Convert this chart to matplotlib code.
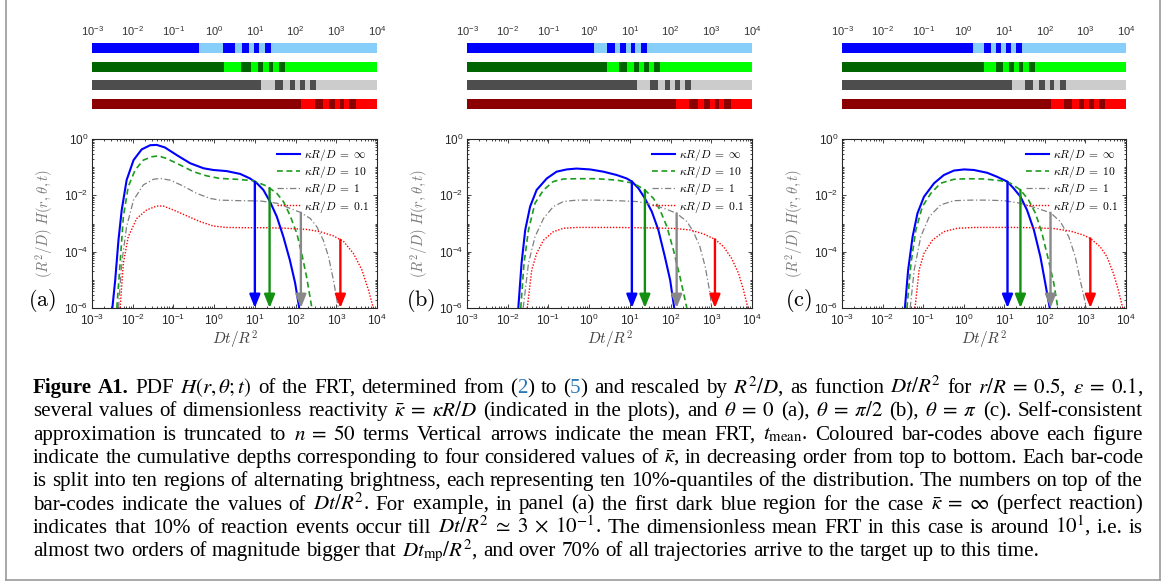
import re
import numpy as np
import matplotlib
matplotlib.use('Agg')
import matplotlib.pyplot as plt
from matplotlib.ticker import LogLocator, NullFormatter, FixedLocator
from matplotlib.lines import Line2D
from matplotlib.transforms import IdentityTransform
from matplotlib.font_manager import FontProperties

plt.rcParams['font.family'] = ['Liberation Sans', 'DejaVu Sans']
plt.rcParams['mathtext.fontset'] = 'cm'

# ---------------------------------------------------------------- data
panel_labels = ['(a)', '(b)', '(c)']
kappa_labels = [r'$\kappa R/D\;=\;\infty$', r'$\kappa R/D\;=\;10$',
                r'$\kappa R/D\;=\;1$', r'$\kappa R/D\;=\;0.1$']
xtick_exponents = [-3, -2, -1, 0, 1, 2, 3, 4]
ytick_exponents = [-6, -4, -2, 0]

# curves: log10(Dt/R^2) and log10((R^2/D) H)
# panel (a)
a_inf_lx = [-2.50, -2.43, -2.35, -2.27, -2.15, -1.98, -1.78, -1.57, -1.41, -1.21, -0.92, -0.59, -0.26,
            -0.02, 0.31, 0.64, 0.88, 1.05, 1.21, 1.37, 1.54, 1.70, 1.86, 1.99, 2.09]
a_inf_ly = [-6.0, -5.01, -3.59, -2.52, -1.46, -0.75, -0.37, -0.22, -0.21, -0.30, -0.57, -0.86, -1.04,
            -1.10, -1.14, -1.24, -1.40, -1.57, -1.81, -2.22, -2.76, -3.47, -4.30, -5.12, -6.0]
a_10_lx = [-2.39, -2.31, -2.23, -2.11, -1.94, -1.74, -1.53, -1.37, -1.17, -0.84, -0.51, -0.18, 0.14,
           0.55, 0.96, 1.29, 1.54, 1.70, 1.86, 2.03, 2.15, 2.27, 2.40]
a_10_ly = [-6.0, -4.41, -2.76, -1.69, -1.10, -0.75, -0.63, -0.60, -0.69, -0.92, -1.16, -1.31, -1.40,
           -1.43, -1.48, -1.67, -1.93, -2.22, -2.70, -3.35, -4.06, -4.89, -6.0]
a_1_lx = [-2.35, -2.27, -2.15, -1.98, -1.74, -1.49, -1.33, -1.08, -0.76, -0.43, -0.10, 0.14, 0.64,
          1.13, 1.54, 1.86, 2.11, 2.36, 2.52, 2.68, 2.81, 2.93, 3.05]
a_1_ly = [-6.0, -4.41, -3.11, -2.17, -1.63, -1.43, -1.40, -1.46, -1.67, -1.93, -2.11, -2.17, -2.19,
          -2.20, -2.28, -2.46, -2.60, -2.82, -3.11, -3.59, -4.18, -5.01, -6.0]
a_01_lx = [-2.31, -2.23, -2.11, -1.90, -1.66, -1.41, -1.25, -1.00, -0.67, -0.35, -0.02, 0.31, 0.80,
           1.29, 1.78, 2.27, 2.60, 2.93, 3.18, 3.42, 3.63, 3.79, 3.91]
a_01_ly = [-6.0, -4.41, -3.47, -2.82, -2.52, -2.38, -2.38, -2.52, -2.73, -2.93, -3.09, -3.14, -3.15,
           -3.15, -3.17, -3.21, -3.29, -3.44, -3.64, -4.06, -4.65, -5.36, -6.0]
# panel (b)
b_inf_lx = [-1.74, -1.66, -1.57, -1.45, -1.29, -1.04, -0.80, -0.55, -0.31, 0.02, 0.35, 0.68, 0.92,
            1.05, 1.21, 1.37, 1.54, 1.70, 1.86, 1.99, 2.09]
b_inf_ly = [-6.0, -4.41, -3.23, -2.40, -1.81, -1.40, -1.16, -1.08, -1.05, -1.08, -1.16, -1.28, -1.40,
            -1.51, -1.75, -2.11, -2.58, -3.23, -4.18, -5.01, -6.0]
b_10_lx = [-1.68, -1.60, -1.49, -1.33, -1.12, -0.88, -0.63, -0.31, 0.19, 0.68, 1.09, 1.37, 1.58,
           1.74, 1.91, 2.07, 2.23, 2.40]
b_10_ly = [-6.0, -4.41, -3.23, -2.28, -1.81, -1.51, -1.42, -1.41, -1.41, -1.46, -1.57, -1.81, -2.11,
           -2.52, -3.11, -3.94, -4.89, -6.0]
b_1_lx = [-1.62, -1.49, -1.33, -1.12, -0.88, -0.63, -0.31, 0.19, 0.68, 1.17, 1.58, 1.91, 2.15,
          2.40, 2.56, 2.72, 2.85, 2.97, 3.01]
b_1_ly = [-6.0, -4.41, -3.47, -2.82, -2.40, -2.22, -2.17, -2.17, -2.19, -2.22, -2.34, -2.50, -2.64,
          -2.93, -3.29, -3.82, -4.53, -5.48, -6.0]
b_01_lx = [-1.52, -1.41, -1.29, -1.12, -0.88, -0.63, -0.31, 0.19, 0.68, 1.17, 1.66, 2.15, 2.48,
           2.81, 3.09, 3.30, 3.50, 3.67, 3.79, 3.90]
b_01_ly = [-6.0, -4.65, -4.06, -3.59, -3.29, -3.17, -3.14, -3.14, -3.14, -3.15, -3.16, -3.18, -3.23,
           -3.37, -3.56, -3.82, -4.24, -4.77, -5.36, -6.0]
# panel (c)
c_inf_lx = [-1.45, -1.37, -1.26, -1.14, -0.98, -0.73, -0.49, -0.24, 0.01, 0.25, 0.58, 0.82, 1.07,
            1.23, 1.40, 1.56, 1.73, 1.89, 2.01, 2.12]
c_inf_ly = [-6.0, -4.65, -3.47, -2.64, -2.05, -1.57, -1.28, -1.12, -1.08, -1.10, -1.20, -1.34, -1.51,
            -1.75, -2.05, -2.52, -3.23, -4.18, -5.12, -6.0]
c_10_lx = [-1.40, -1.30, -1.18, -1.02, -0.81, -0.57, -0.24, 0.09, 0.50, 0.91, 1.15, 1.40, 1.60,
           1.77, 1.93, 2.09, 2.22, 2.32]
c_10_ly = [-6.0, -4.41, -3.23, -2.40, -1.93, -1.57, -1.43, -1.41, -1.42, -1.48, -1.57, -1.81, -2.17,
           -2.64, -3.35, -4.30, -5.12, -6.0]
c_1_lx = [-1.32, -1.22, -1.06, -0.85, -0.57, -0.24, 0.17, 0.58, 0.99, 1.40, 1.81, 2.14, 2.38,
          2.59, 2.75, 2.87, 3.00, 3.02]
c_1_ly = [-6.0, -4.65, -3.47, -2.76, -2.34, -2.19, -2.17, -2.17, -2.19, -2.28, -2.46, -2.62, -2.93,
          -3.47, -4.18, -5.01, -5.83, -6.0]
c_01_lx = [-1.20, -1.10, -0.98, -0.77, -0.49, -0.16, 0.25, 0.74, 1.23, 1.73, 2.22, 2.63, 2.95,
           3.12, 3.36, 3.53, 3.69, 3.81, 3.92]
c_01_ly = [-6.0, -4.65, -4.06, -3.59, -3.29, -3.17, -3.14, -3.14, -3.14, -3.15, -3.18, -3.27, -3.41,
           -3.53, -3.82, -4.18, -4.77, -5.36, -6.0]

# mean FRT (arrows), order: inf, 10, 1, 0.1
mean_a = [10.0, 23.0, 135.0, 1260.0]
mean_b = [11.2, 23.4, 141.0, 1230.0]
mean_c = [12.0, 25.0, 138.0, 1320.0]

# 10%-quantiles of Dt/R^2 for the bar-codes (9 inner boundaries)
qa_inf = [0.43, 1.66, 3.3, 4.9, 7.2, 9.6, 12.7, 17.9, 25.0]
qa_10 = [1.77, 4.6, 8.1, 12.1, 15.9, 22.5, 28.6, 39.5, 54.6]
qa_1 = [14.3, 31.7, 49.6, 73.7, 97.7, 130.0, 173.0, 229.0, 322.0]
qa_01 = [138.0, 304.0, 476.0, 675.0, 952.0, 1259.0, 1590.0, 2100.0, 3100.0]
qb_inf = [1.35, 2.8, 4.2, 5.8, 8.2, 10.9, 13.7, 18.3, 27.0]
qb_10 = [2.8, 5.5, 8.7, 12.9, 17.0, 22.7, 30.0, 40.0, 56.0]
qb_1 = [15.4, 32.0, 50.0, 74.0, 98.0, 131.0, 174.0, 231.0, 325.0]
qb_01 = [139.0, 289.0, 477.0, 672.0, 950.0, 1200.0, 1590.0, 2100.0, 3100.0]
qc_inf = [1.66, 3.1, 4.6, 6.4, 8.5, 11.3, 15.0, 19.0, 28.0]
qc_10 = [3.1, 6.1, 9.5, 13.4, 17.8, 23.5, 29.5, 41.5, 58.0]
qc_1 = [15.9, 33.0, 52.0, 73.0, 103.0, 137.0, 170.0, 240.0, 340.0]
qc_01 = [145.0, 302.0, 475.0, 712.0, 940.0, 1240.0, 1650.0, 2180.0, 3080.0]

caption_lines = [
    r"**Figure** **A1.** PDF $H(r,\theta;t)$ of the FRT, determined from ([2]) to ([5]) and rescaled by $R^2/D$, as function $Dt/R^2$ for $r/R\;=\;0.5$, $\varepsilon\;=\;0.1$,",
    r"several values of dimensionless reactivity $\bar{\kappa}\;=\;\kappa R/D$ (indicated in the plots), and $\theta\;=\;0$ (a), $\theta\;=\;\pi/2$ (b), $\theta\;=\;\pi$ (c). Self-consistent",
    r"approximation is truncated to $n\;=\;50$ terms Vertical arrows indicate the mean FRT, $t_{\mathrm{mean}}$. Coloured bar-codes above each figure",
    r"indicate the cumulative depths corresponding to four considered values of $\bar{\kappa}$, in decreasing order from top to bottom. Each bar-code",
    r"is split into ten regions of alternating brightness, each representing ten 10%-quantiles of the distribution. The numbers on top of the",
    r"bar-codes indicate the values of $Dt/R^2$. For example, in panel (a) the first dark blue region for the case $\bar{\kappa}\;=\;\infty$ (perfect reaction)",
    r"indicates that 10% of reaction events occur till $Dt/R^2\;\simeq\;3\;\times\;10^{-1}$. The dimensionless mean FRT in this case is around $10^1$, i.e. is",
    r"almost two orders of magnitude bigger that $Dt_{\mathrm{mp}}/R^2$, and over 70% of all trajectories arrive to the target up to this time.",
]

curves = [
    [(a_inf_lx, a_inf_ly), (a_10_lx, a_10_ly), (a_1_lx, a_1_ly), (a_01_lx, a_01_ly)],
    [(b_inf_lx, b_inf_ly), (b_10_lx, b_10_ly), (b_1_lx, b_1_ly), (b_01_lx, b_01_ly)],
    [(c_inf_lx, c_inf_ly), (c_10_lx, c_10_ly), (c_1_lx, c_1_ly), (c_01_lx, c_01_ly)],
]
means = [mean_a, mean_b, mean_c]
quantiles = [[qa_inf, qa_10, qa_1, qa_01], [qb_inf, qb_10, qb_1, qb_01], [qc_inf, qc_10, qc_1, qc_01]]

# ---------------------------------------------------------------- styles
line_colors = ['#0000ff', '#1c9c1c', '#808080', '#ff0000']
arrow_colors = ['#0000ff', '#129012', '#888888', '#ff0000']
line_styles = ['-', (0, (3.5, 2.2)), (0, (5, 2, 1, 2)), (0, (1, 1.2))]
line_widths = [1.5, 1.2, 0.9, 1.0]
bar_dark = ['#0000ff', '#006400', '#4d4d4d', '#8b0000']
bar_light = ['#87cefa', '#00ff00', '#cccccc', '#ff0000']

W, H = 1168, 588
fig = plt.figure(figsize=(W / 100, H / 100), dpi=100)


def rect(x0, y0, x1, y1):
    return [x0 / W, 1 - y1 / H, (x1 - x0) / W, (y1 - y0) / H]


plot_px = [(92, 139, 377, 308), (467, 139, 752, 308), (842, 139, 1126, 308)]
bar_px = [(92, 38.6, 377, 113.4), (467, 38.6, 752, 113.4), (842, 38.6, 1126, 113.4)]
letter_x = [-0.175, -0.162, -0.152]
axis_col = '#262626'

for p in range(3):
    # ---------------- bar-codes
    bx = fig.add_axes(rect(*bar_px[p]))
    bx.set_xscale('log')
    for i in range(4):
        edges = [10.0 ** xtick_exponents[0]] + quantiles[p][i] + [10.0 ** xtick_exponents[-1]]
        for j in range(10):
            bx.barh(i, edges[j + 1] - edges[j], left=edges[j], height=0.535,
                    color=bar_dark[i] if j % 2 == 0 else bar_light[i], linewidth=0)
    bx.set_xlim(10.0 ** xtick_exponents[0], 10.0 ** xtick_exponents[-1])
    bx.set_ylim(3.5, -0.5)
    for s in bx.spines.values():
        s.set_visible(False)
    bx.xaxis.tick_top()
    bx.set_xticks([10.0 ** k for k in xtick_exponents])
    bx.xaxis.set_minor_locator(FixedLocator([]))
    bx.set_yticks([])
    bx.tick_params(axis='x', length=0, pad=0.5, labelsize=8, labelcolor='#333333')

    # ---------------- curves
    ax = fig.add_axes(rect(*plot_px[p]))
    ax.set_xscale('log')
    ax.set_yscale('log')
    for i in range(4):
        lx, ly = curves[p][i]
        ax.plot(10.0 ** np.array(lx), 10.0 ** np.array(ly), color=line_colors[i],
                linestyle=line_styles[i], linewidth=line_widths[i], label=kappa_labels[i])
    for i in range(4):
        lx, ly = curves[p][i]
        m = means[p][i]
        ytop = 10.0 ** np.interp(np.log10(m), lx, ly)
        ax.annotate('', xy=(m, 10.0 ** ytick_exponents[0]), xytext=(m, ytop),
                    arrowprops=dict(arrowstyle='-|>,head_length=0.8,head_width=0.32',
                                    color=arrow_colors[i], lw=1.7, shrinkA=0, shrinkB=0,
                                    mutation_scale=10),
                    annotation_clip=False)
    ax.set_xlim(10.0 ** xtick_exponents[0], 10.0 ** xtick_exponents[-1])
    ax.set_ylim(10.0 ** ytick_exponents[0], 10.0 ** ytick_exponents[-1])
    ax.set_xticks([10.0 ** k for k in xtick_exponents])
    ax.set_yticks([10.0 ** k for k in ytick_exponents])
    ax.xaxis.set_minor_locator(LogLocator(base=10, subs=np.arange(2, 10), numticks=100))
    ax.yaxis.set_minor_locator(LogLocator(base=10, subs=np.arange(1, 10), numticks=100))
    ax.xaxis.set_minor_formatter(NullFormatter())
    ax.yaxis.set_minor_formatter(NullFormatter())
    ax.tick_params(which='both', direction='in', top=True, right=True, color=axis_col,
                   labelcolor=axis_col, labelsize=8.5, width=0.6)
    ax.tick_params(which='major', length=3)
    ax.tick_params(which='minor', length=1.6)
    ax.tick_params(axis='x', pad=3.5)
    ax.tick_params(axis='y', pad=2.5)
    for s in ax.spines.values():
        s.set_color(axis_col)
        s.set_linewidth(0.8)
    ax.set_xlabel(r'$Dt/R^2$', fontsize=11, color='#404040')
    ax.xaxis.set_label_coords(0.5, -0.125)
    ax.set_ylabel(r'$(R^2/D)\;H(r,\theta,t)$', fontsize=10.5, color='#7a7a7a')
    ax.yaxis.set_label_coords(-0.13, 0.5)
    ax.text(letter_x[p], 0.047, r'$\mathrm{' + panel_labels[p] + '}$', transform=ax.transAxes,
            fontsize=16, ha='center', va='center', color='black')
    leg = ax.legend(loc='upper right', bbox_to_anchor=(1.0, 1.0), frameon=False, fontsize=8.3,
                    handlelength=2.0, handletextpad=0.3, labelspacing=0.1, borderaxespad=0.3)

# ---------------------------------------------------------------- frame
frame_col = '#9a9a9a'
fig.add_artist(Line2D([6 / W, 6 / W], [1 - 580 / H, 1], transform=fig.transFigure, color=frame_col, lw=1.2))
fig.add_artist(Line2D([1160 / W, 1160 / W], [1 - 580 / H, 1], transform=fig.transFigure, color=frame_col, lw=1.2))
fig.add_artist(Line2D([6 / W, 1160 / W], [1 - 580 / H, 1 - 580 / H], transform=fig.transFigure, color=frame_col, lw=1.2))

# ---------------------------------------------------------------- caption
renderer = fig.canvas.get_renderer()


def split_tokens(line):
    toks, cur, inmath = [], '', False
    for ch in line:
        if ch == '$':
            inmath = not inmath
        if ch == ' ' and not inmath:
            if cur:
                toks.append(cur)
            cur = ''
        else:
            cur += ch
    if cur:
        toks.append(cur)
    return toks


def split_pieces(tok):
    out = []
    for part in re.split(r'(\*\*.*?\*\*|\[.*?\])', tok):
        if not part:
            continue
        if part.startswith('**'):
            out.append((part[2:-2], 'bold', 'black'))
        elif part.startswith('['):
            out.append((part[1:-1], 'normal', '#2878b8'))
        else:
            out.append((part, 'normal', 'black'))
    return out


def measure(text, size, weight):
    t = fig.text(0, 0, text, fontproperties=FontProperties(family='Liberation Serif', size=size,
                 weight=weight, math_fontfamily='stix'), transform=IdentityTransform())
    w = t.get_window_extent(renderer).width
    t.remove()
    return w


x_left, x_right = 33, 1143
target = x_right - x_left
base = 12.0
nat = []
for line in caption_lines[:-1]:
    toks = split_tokens(line)
    wsum = sum(measure(pc, base, wt) for tk in toks for pc, wt, _ in split_pieces(tk))
    nat.append(wsum + 0.25 * base * 100 / 72 * (len(toks) - 1))
size = base * (target - 4) / max(nat)

base_y0, dy = 393, 23.3
for li, line in enumerate(caption_lines):
    toks = split_tokens(line)
    widths = []
    for tk in toks:
        widths.append([measure(pc, size, wt) for pc, wt, _ in split_pieces(tk)])
    tot = sum(sum(w) for w in widths)
    if li < len(caption_lines) - 1:
        gap = (target - tot) / (len(toks) - 1)
    else:
        gap = 0.25 * size * 100 / 72
    x = x_left
    yb = H - (base_y0 + dy * li)
    for tk, ws in zip(toks, widths):
        for (pc, wt, col), w in zip(split_pieces(tk), ws):
            fig.text(x, yb, pc, fontproperties=FontProperties(family='Liberation Serif', size=size,
                     weight=wt, math_fontfamily='stix'), color=col, transform=IdentityTransform(),
                     va='baseline', ha='left')
            x += w
        x += gap

fig.savefig('out.png', dpi=100)
